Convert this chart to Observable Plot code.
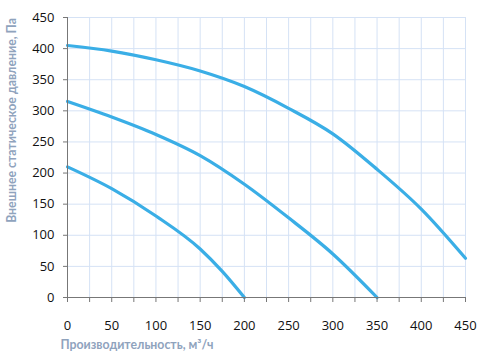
<!DOCTYPE html>
<html><head><meta charset="utf-8">
<script src="https://cdn.jsdelivr.net/npm/d3@7"></script>
<script src="https://cdn.jsdelivr.net/npm/@observablehq/plot@0.6"></script>
<style>body{margin:0;background:#fff;font-family:"Open Sans",sans-serif}</style>
</head><body><div id="chart"></div>
<script>
const flow1 = [0, 50, 100, 150, 200, 250, 300, 350, 400, 450];
const pres1 = [405, 396, 382, 364, 339, 304, 263, 206, 142, 63];
const flow2 = [0, 50, 100, 150, 200, 250, 300, 350];
const pres2 = [315, 290, 262, 228, 182, 128, 70, 0];
const flow3 = [0, 50, 100, 150, 175, 200];
const pres3 = [210, 175, 131, 78, 42, 0];
const xTicks = [0, 50, 100, 150, 200, 250, 300, 350, 400, 450];
const yTicks = [0, 50, 100, 150, 200, 250, 300, 350, 400, 450];
const xLabel = "Производительность, м³/ч";
const yLabel = "Внешнее статическое давление, Па";

const series = [
  {flow: flow1, pres: pres1, id: "A"},
  {flow: flow2, pres: pres2, id: "B"},
  {flow: flow3, pres: pres3, id: "C"}
];
const data = series.flatMap(s => s.flow.map((f, i) => ({x: f, y: s.pres[i], id: s.id})));
const xMinor = d3.range(0, 451, 25);

const chart = Plot.plot({
  width: 480, height: 360,
  marginLeft: 67, marginRight: 15, marginTop: 17, marginBottom: 63,
  style: {fontFamily: "'Open Sans', sans-serif", fontSize: "13px", color: "#111"},
  x: {domain: [0, 450]},
  y: {domain: [0, 450]},
  marks: [
    Plot.ruleX(xMinor.filter(d => d > 0), {stroke: "#d5e2f5", strokeWidth: 1}),
    Plot.ruleY(yTicks.filter(d => d > 0), {stroke: "#d5e2f5", strokeWidth: 1}),
    Plot.line(data, {x: "x", y: "y", z: "id", stroke: "#3aaee6", strokeWidth: 3.2, curve: "monotone-x"}),
    Plot.axisX(xMinor, {tickSize: 5, tickPadding: 18, label: null, tickFormat: d => xTicks.includes(d) ? d : "", stroke: "#777", fontSize: 13}),
    Plot.axisY(yTicks, {tickSize: 4, tickPadding: 9, label: null, stroke: "#777", fontSize: 13}),
    Plot.ruleY([0], {stroke: "#777"}),
    Plot.ruleX([0], {stroke: "#777"}),
    Plot.text([xLabel], {frameAnchor: "bottom-left", dx: -7, dy: 51, text: d => d, textAnchor: "start", fill: "#8fa3bd", fontWeight: "bold", fontSize: 12.3, fontFamily: "Lato, sans-serif"}),
    Plot.text([yLabel], {frameAnchor: "left", dx: -55, dy: -37, rotate: -90, textAnchor: "middle", text: d => d, fill: "#8fa3bd", fontWeight: "bold", fontSize: 12.3, fontFamily: "Lato, sans-serif"})
  ]
});
document.getElementById("chart").append(chart);
</script>
</body></html>
